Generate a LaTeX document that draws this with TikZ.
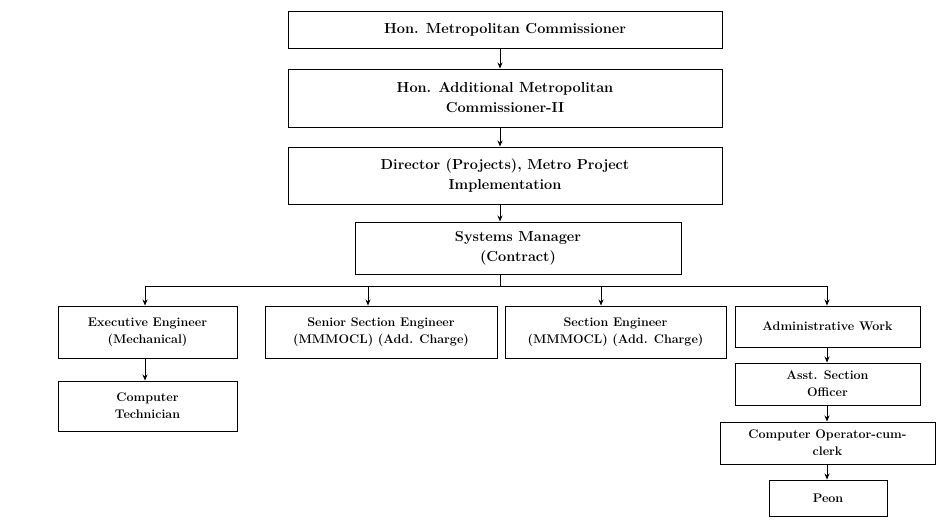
\documentclass[tikz,border=0pt]{standalone}
\usetikzlibrary{arrows.meta}
\begin{document}
\begin{tikzpicture}[x=1pt,y=-1pt,
  box/.style={draw,line width=1pt,align=center,font=\fontsize{14.5}{20}\selectfont\bfseries,inner sep=0pt},
  sbox/.style={draw,line width=1pt,align=center,font=\fontsize{12.5}{17}\selectfont\bfseries,inner sep=0pt},
  arr/.style={-{Stealth[length=6pt,width=5pt]},line width=0.8pt}]
\useasboundingbox (0,0) rectangle (949,523);
\node[box,minimum width=434,minimum height=37] (c1) at (505,29.5) {Hon. Metropolitan Commissioner};
\node[box,minimum width=434,minimum height=58] (c2) at (505,98) {Hon. Additional Metropolitan\\Commissioner-II};
\node[box,minimum width=434,minimum height=57] (c3) at (505,175.5) {Director (Projects), Metro Project\\Implementation};
\node[box,minimum width=326,minimum height=52] (c4) at (518,248) {Systems Manager\\(Contract)};
\node[sbox,minimum width=179,minimum height=52] (a) at (147.5,332) {Executive Engineer\\(Mechanical)};
\node[sbox,minimum width=232,minimum height=52] (b) at (381,332) {Senior Section Engineer\\(MMMOCL) (Add. Charge)};
\node[sbox,minimum width=221,minimum height=52] (c) at (615.5,332) {Section Engineer\\(MMMOCL) (Add. Charge)};
\node[sbox,minimum width=185,minimum height=41] (d) at (827.5,326.5) {Administrative Work};
\node[sbox,minimum width=179,minimum height=50] (a1) at (147.5,406) {Computer\\Technician};
\node[sbox,minimum width=185,minimum height=42] (d1) at (827.5,384) {Asst. Section\\Officer};
\node[sbox,minimum width=215,minimum height=42] (d2) at (827.5,443) {Computer Operator-cum-\\clerk};
\node[sbox,minimum width=118,minimum height=36] (d3) at (828,498) {Peon};
\draw[arr] (c1.south-|500,0) -- (c2.north-|500,0);
\draw[arr] (c2.south-|500,0) -- (c3.north-|500,0);
\draw[arr] (c3.south-|500,0) -- (c4.north-|500,0);
\coordinate (bus) at (500,286);
\draw[line width=0.8pt] (c4.south-|500,0) -- (bus);
\draw[line width=0.8pt] (145,286) -- (827,286);
\draw[arr] (145,286) -- (a.north-|145,0);
\draw[arr] (368,286) -- (b.north-|368,0);
\draw[arr] (601,286) -- (c.north-|601,0);
\draw[arr] (827,286) -- (d.north-|827,0);
\draw[arr] (a.south-|145,0) -- (a1.north-|145,0);
\draw[arr] (d.south-|827,0) -- (d1.north-|827,0);
\draw[arr] (d1.south-|827,0) -- (d2.north-|827,0);
\draw[arr] (d2.south-|827,0) -- (d3.north-|827,0);
\end{tikzpicture}
\end{document}
